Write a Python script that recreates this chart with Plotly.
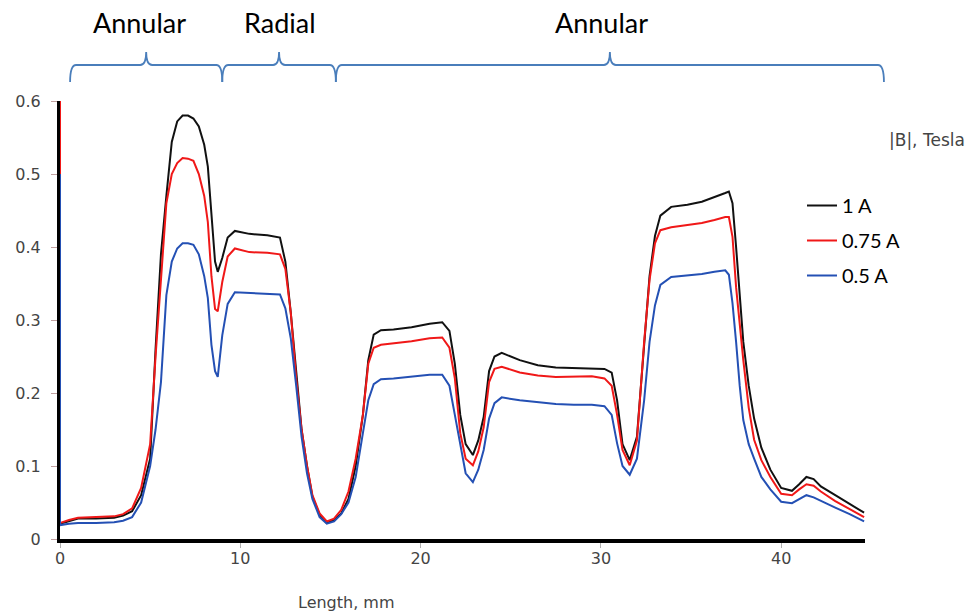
import plotly.graph_objects as go

# ---------------- data ----------------
length_mm = [0, 0, 0.5, 1, 2, 3, 3.5, 4, 4.5, 5, 5.3, 5.6, 5.9, 6.2, 6.5, 6.8, 7.1, 7.4, 7.7,
             8.0, 8.2, 8.4, 8.6, 8.75, 9.0, 9.3, 9.7, 10.5, 11.5, 12.2, 12.5, 12.8, 13.1,
             13.4, 13.7, 14.0, 14.4, 14.8, 15.2, 15.6, 16.0, 16.4, 16.8, 17.1, 17.4, 17.8,
             18.5, 19.5, 20.5, 21.2, 21.6, 21.9, 22.2, 22.5, 22.9, 23.2, 23.5, 23.8, 24.1,
             24.5, 25.5, 26.5, 27.5, 28.5, 29.5, 30.2, 30.6, 30.9, 31.2, 31.6, 32.0, 32.4,
             32.7, 33.0, 33.3, 33.9, 34.8, 35.6, 36.3, 36.9, 37.1, 37.3, 37.5, 37.7, 37.9,
             38.2, 38.5, 38.9, 39.4, 40.0, 40.6, 41.0, 41.4, 41.8, 42.2, 43.0, 43.8, 44.6]

b_1A = [0.021, 0.021, 0.025, 0.028, 0.028, 0.029, 0.032, 0.038, 0.06, 0.11, 0.26, 0.39, 0.47,
        0.544, 0.572, 0.580, 0.580, 0.576, 0.565, 0.54, 0.51, 0.44, 0.38, 0.366, 0.385, 0.413,
        0.422, 0.418, 0.416, 0.413, 0.38, 0.31, 0.23, 0.15, 0.10, 0.058, 0.033, 0.022, 0.026,
        0.035, 0.055, 0.10, 0.17, 0.245, 0.280, 0.286, 0.287, 0.290, 0.295, 0.297, 0.285,
        0.24, 0.17, 0.13, 0.115, 0.135, 0.167, 0.23, 0.250, 0.255, 0.245, 0.238, 0.235,
        0.234, 0.234, 0.233, 0.228, 0.19, 0.13, 0.108, 0.14, 0.27, 0.36, 0.415, 0.443,
        0.455, 0.458, 0.462, 0.468, 0.474, 0.476, 0.46, 0.40, 0.33, 0.27, 0.21, 0.165,
        0.125, 0.095, 0.07, 0.066, 0.075, 0.085, 0.082, 0.072, 0.060, 0.048, 0.036]

b_075A = [0.6, 0.022, 0.026, 0.029, 0.030, 0.031, 0.034, 0.042, 0.07, 0.13, 0.25, 0.36, 0.46,
          0.50, 0.515, 0.522, 0.521, 0.518, 0.50, 0.47, 0.434, 0.36, 0.315, 0.312, 0.352,
          0.387, 0.398, 0.393, 0.392, 0.390, 0.37, 0.31, 0.22, 0.15, 0.10, 0.06, 0.035, 0.024,
          0.028, 0.040, 0.065, 0.11, 0.17, 0.240, 0.262, 0.266, 0.268, 0.271, 0.275, 0.276,
          0.262, 0.22, 0.145, 0.11, 0.101, 0.12, 0.153, 0.215, 0.233, 0.236, 0.228, 0.224,
          0.222, 0.222, 0.223, 0.220, 0.21, 0.17, 0.122, 0.101, 0.135, 0.27, 0.355, 0.405,
          0.423, 0.427, 0.430, 0.433, 0.437, 0.441, 0.441, 0.414, 0.345, 0.29, 0.245, 0.18,
          0.136, 0.108, 0.085, 0.062, 0.060, 0.068, 0.075, 0.073, 0.065, 0.052, 0.041, 0.030]

b_05A = [0.5, 0.019, 0.021, 0.022, 0.022, 0.023, 0.025, 0.030, 0.05, 0.10, 0.15, 0.215, 0.334,
         0.38, 0.398, 0.405, 0.405, 0.403, 0.39, 0.36, 0.33, 0.266, 0.23, 0.222, 0.279,
         0.322, 0.338, 0.337, 0.336, 0.335, 0.316, 0.275, 0.21, 0.14, 0.09, 0.055, 0.03,
         0.021, 0.024, 0.034, 0.05, 0.085, 0.145, 0.19, 0.212, 0.219, 0.220, 0.222, 0.225,
         0.225, 0.21, 0.17, 0.13, 0.09, 0.078, 0.095, 0.122, 0.165, 0.186, 0.194, 0.190,
         0.187, 0.185, 0.184, 0.184, 0.182, 0.17, 0.131, 0.10, 0.088, 0.11, 0.19, 0.27,
         0.32, 0.348, 0.359, 0.361, 0.363, 0.366, 0.368, 0.362, 0.323, 0.27, 0.21, 0.163,
         0.13, 0.11, 0.085, 0.068, 0.051, 0.049, 0.055, 0.06, 0.057, 0.052, 0.043, 0.034,
         0.024]

series_names = ["1 A", "0.75 A", "0.5 A"]
series_colors = ["#111111", "#f01818", "#2450b4"]

x_ticks = [0, 10, 20, 30, 40]
y_ticks = [0, 0.1, 0.2, 0.3, 0.4, 0.5, 0.6]

# regions (mm) shown by braces at the top
region_labels = ["Annular", "Radial", "Annular"]
region_start = [0.56, 9.0, 15.3]
region_end = [9.0, 15.3, 45.7]
region_label_x = [4.39, 12.2, 30.05]

# ---------------- layout geometry ----------------
W, H = 972, 614
ML, MR, MT, MB = 60, 107, 101, 75
XMAX = 44.65
PW, PH = W - ML - MR, H - MT - MB


def px_x(mm):  # mm -> paper x
    return mm / XMAX


def py(pix_y):  # pixel y -> paper y
    return (H - MB - pix_y) / PH


def pxp(pix_x):
    return (pix_x - ML) / PW


fig = go.Figure()
for name, vals, col in zip(series_names, [b_1A, b_075A, b_05A], series_colors):
    fig.add_trace(go.Scatter(x=length_mm, y=vals, mode="lines", name=name,
                             legendgroup=name,
                             line=dict(color=col, width=2), cliponaxis=True))

# braces
brace_color = "#4a7ebb"
y_line, y_end, y_tip = py(65), py(82), py(52)
r = 6 / PW
for lab, a, b, lx in zip(region_labels, region_start, region_end, region_label_x):
    x0, x1 = px_x(a), px_x(b)
    xm = (x0 + x1) / 2
    path = (f"M {x0},{y_end} Q {x0},{y_line} {x0 + r},{y_line} "
            f"L {xm - r},{y_line} Q {xm},{y_line} {xm},{y_tip} "
            f"Q {xm},{y_line} {xm + r},{y_line} "
            f"L {x1 - r},{y_line} Q {x1},{y_line} {x1},{y_end}")
    fig.add_shape(type="path", path=path, xref="paper", yref="paper",
                  line=dict(color=brace_color, width=1.8))
    fig.add_annotation(x=px_x(lx), y=py(22), xref="paper", yref="paper", text=lab,
                       showarrow=False, font=dict(family="Lato", size=27, color="#000000"),
                       xanchor="center", yanchor="middle")

fig.add_annotation(x=pxp(927), y=py(140), xref="paper", yref="paper", text="|B|, Tesla",
                   showarrow=False, font=dict(family="DejaVu Sans", size=17, color="#444444"),
                   xanchor="center", yanchor="middle")
fig.add_annotation(x=pxp(346), y=py(602), xref="paper", yref="paper", text="Length, mm",
                   showarrow=False, font=dict(family="DejaVu Sans", size=16, color="#444444"),
                   xanchor="center", yanchor="middle")

fig.update_layout(
    width=W, height=H,
    margin=dict(l=ML, r=MR, t=MT, b=MB, pad=0),
    plot_bgcolor="white", paper_bgcolor="white",
    showlegend=True,
    legend=dict(x=pxp(802), y=py(186), xanchor="left", yanchor="top",
                font=dict(family="Lato", size=20, color="#000000"),
                bgcolor="rgba(0,0,0,0)", tracegroupgap=6, itemwidth=30,
                traceorder="grouped"),
    xaxis=dict(range=[0, XMAX], tickvals=x_ticks, showgrid=False, zeroline=False,
               showline=True, linecolor="#000000", linewidth=4, layer="below traces",
               ticks="outside", ticklen=5, tickcolor="#b0b0b0", tickwidth=1,
               ticklabelstandoff=-3,
               tickfont=dict(family="DejaVu Sans", size=16, color="#444444")),
    yaxis=dict(range=[0, 0.6], tickvals=y_ticks, showgrid=False, zeroline=False,
               showline=True, linecolor="#000000", linewidth=3, layer="below traces",
               ticks="outside", ticklen=6, tickcolor="#c0a0a0", tickwidth=1,
               ticklabelstandoff=7,
               tickfont=dict(family="DejaVu Sans", size=16, color="#444444")),
)

fig.write_html("out.html", post_script="document.body.style.margin='0';",
               config={"displayModeBar": False})
